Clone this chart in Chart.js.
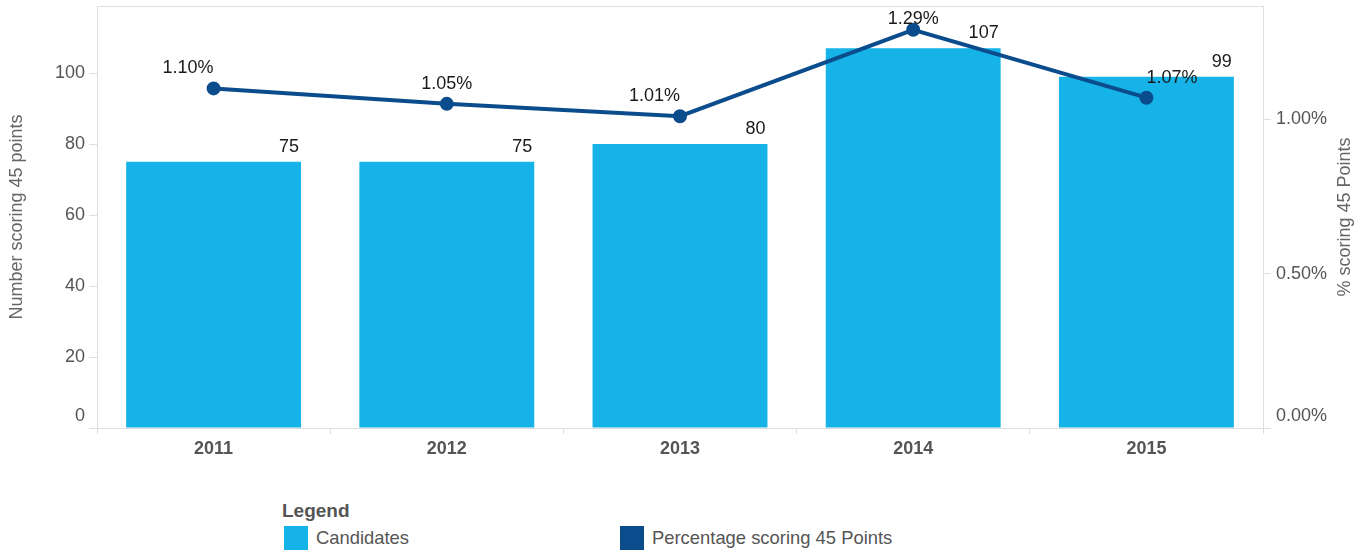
<!DOCTYPE html>
<html>
<head>
<meta charset="utf-8">
<script src="https://cdn.jsdelivr.net/npm/chart.js@4/dist/chart.umd.min.js"></script>
<style>
  html, body { margin: 0; padding: 0; background: #fff; }
  body { width: 1369px; height: 553px; position: relative; overflow: hidden; font-family: 'Liberation Sans', Arial, sans-serif; }
  #wrap { position: absolute; left: 0; top: 0; width: 1369px; height: 470px; }
  .legend { position: absolute; left: 282px; top: 500px; color: #555; }
  .legend__title { font-weight: bold; font-size: 19px; line-height: 22px; }
  .legend__item { position: absolute; top: 26px; display: flex; align-items: center; font-size: 18.4px; white-space: nowrap; }
  .legend__box { width: 24px; height: 24px; margin-right: 8px; }
</style>
</head>
<body>
<div id="wrap"><canvas id="chart"></canvas></div>
<div class="legend" id="legend"><div class="legend__title">Legend</div></div>
<script>
const years = ['2011', '2012', '2013', '2014', '2015'];
const candidates = [75, 75, 80, 107, 99];
const percentage = [1.10, 1.05, 1.01, 1.29, 1.07];
const leftTicks = [0, 20, 40, 60, 80, 100];
const rightTicks = [0, 0.5, 1.0];

const barColor = '#15B3E8';
const lineColor = '#0B4C8C';
const axisColor = '#dedede';
const tickColor = '#555';

// plot frame (top edge is not drawn by any scale)
const frame = {
  id: 'frame',
  beforeDatasetsDraw(chart) {
    const { ctx, chartArea: a } = chart;
    ctx.save();
    ctx.strokeStyle = axisColor;
    ctx.lineWidth = 1;
    ctx.beginPath();
    ctx.moveTo(a.left, a.top + 0.5);
    ctx.lineTo(a.right, a.top + 0.5);
    ctx.stroke();
    ctx.restore();
  }
};

const valueLabels = {
  id: 'valueLabels',
  afterDatasetsDraw(chart, args, opts) {
    const { ctx } = chart;
    ctx.save();
    ctx.font = '18px "Liberation Sans", Arial, sans-serif';
    ctx.fillStyle = '#1a1a1a';
    ctx.textBaseline = 'middle';
    chart.getDatasetMeta(0).data.forEach((bar, i) => {
      ctx.textAlign = 'right';
      ctx.fillText(String(candidates[i]), bar.x + bar.width / 2 - 2, bar.y - 15);
    });
    chart.getDatasetMeta(1).data.forEach((pt, i) => {
      ctx.textAlign = opts.lineAlign[i];
      const y = Math.max(pt.y - 20, chart.chartArea.top + 13);
      ctx.fillText(percentage[i].toFixed(2) + '%', pt.x, y);
    });
    ctx.restore();
  }
};

const rightTitle = {
  id: 'rightTitle',
  afterDraw(chart, args, opts) {
    const { ctx, chartArea: a } = chart;
    ctx.save();
    ctx.font = '18px "Liberation Sans", Arial, sans-serif';
    ctx.fillStyle = '#666';
    ctx.textAlign = 'center';
    ctx.textBaseline = 'middle';
    ctx.translate(1345, (a.top + a.bottom) / 2);
    ctx.rotate(-Math.PI / 2);
    ctx.fillText(opts.text, 0, 0);
    ctx.restore();
  }
};

const tickFont = { family: '"Liberation Sans", Arial, sans-serif', size: 18, lineHeight: 1.35 };

function noPad(scale) {
  scale.paddingTop = 0;
  scale.paddingBottom = 0;
}

const chart = new Chart(document.getElementById('chart'), {
  type: 'bar',
  data: {
    labels: years,
    datasets: [
      {
        type: 'bar',
        label: 'Candidates',
        data: candidates,
        backgroundColor: barColor,
        yAxisID: 'y',
        categoryPercentage: 1,
        barPercentage: 0.75,
        order: 1,
      },
      {
        type: 'line',
        label: 'Percentage scoring 45 Points',
        data: percentage,
        borderColor: lineColor,
        backgroundColor: lineColor,
        borderWidth: 4,
        pointRadius: 5,
        pointBackgroundColor: lineColor,
        yAxisID: 'y2',
        order: 0,
      },
    ],
  },
  options: {
    responsive: true,
    maintainAspectRatio: false,
    animation: false,
    layout: { autoPadding: false, padding: { top: 6, left: 0, right: 0, bottom: 0 } },
    plugins: {
      legend: { display: false },
      tooltip: { enabled: false },
      valueLabels: { lineAlign: ['right', 'center', 'right', 'center', 'left'] },
      rightTitle: { text: '% scoring 45 Points' },
    },
    scales: {
      x: {
        grid: { display: true, drawOnChartArea: false, color: axisColor, tickLength: 6, offset: true },
        border: { color: axisColor },
        ticks: { color: tickColor, padding: 3, font: { ...tickFont, weight: 'bold' } },
        afterFit(scale) {
          scale.height = 42;
          scale.paddingLeft = 0;
          scale.paddingRight = 0;
        },
      },
      y: {
        position: 'left',
        min: 0,
        max: 118.9,
        afterBuildTicks(scale) { scale.ticks = leftTicks.map((v) => ({ value: v })); },
        grid: { display: true, drawOnChartArea: false, color: axisColor, tickLength: 8 },
        border: { color: axisColor },
        ticks: {
          color: tickColor,
          padding: 4,
          font: tickFont,
          callback: (v) => (v === 0 ? ['0', ''] : String(v)),
        },
        title: {
          display: true,
          text: 'Number scoring 45 points',
          color: '#666',
          font: { family: '"Liberation Sans", Arial, sans-serif', size: 18 },
          padding: { top: 6, bottom: 0 },
        },
        afterFit(scale) {
          scale.width = 97;
          noPad(scale);
        },
      },
      y2: {
        position: 'right',
        min: 0,
        max: 1.367,
        afterBuildTicks(scale) { scale.ticks = rightTicks.map((v) => ({ value: v })); },
        grid: { display: true, drawOnChartArea: false, color: axisColor, tickLength: 8 },
        border: { color: axisColor },
        ticks: {
          color: tickColor,
          padding: 5,
          font: tickFont,
          callback: (v) => (v === 0 ? ['0.00%', ''] : v.toFixed(2) + '%'),
        },
        afterFit(scale) {
          scale.width = 106;
          noPad(scale);
        },
      },
    },
  },
  plugins: [frame, valueLabels, rightTitle],
});

// html legend built from the datasets
const legendLeft = [2, 338];
const legend = document.getElementById('legend');
chart.data.datasets.forEach((ds, i) => {
  const item = document.createElement('div');
  item.className = 'legend__item';
  item.style.left = legendLeft[i] + 'px';
  const box = document.createElement('span');
  box.className = 'legend__box';
  box.style.background = ds.type === 'line' ? ds.borderColor : ds.backgroundColor;
  const text = document.createElement('span');
  text.textContent = ds.label;
  item.append(box, text);
  legend.append(item);
});
</script>
</body>
</html>
